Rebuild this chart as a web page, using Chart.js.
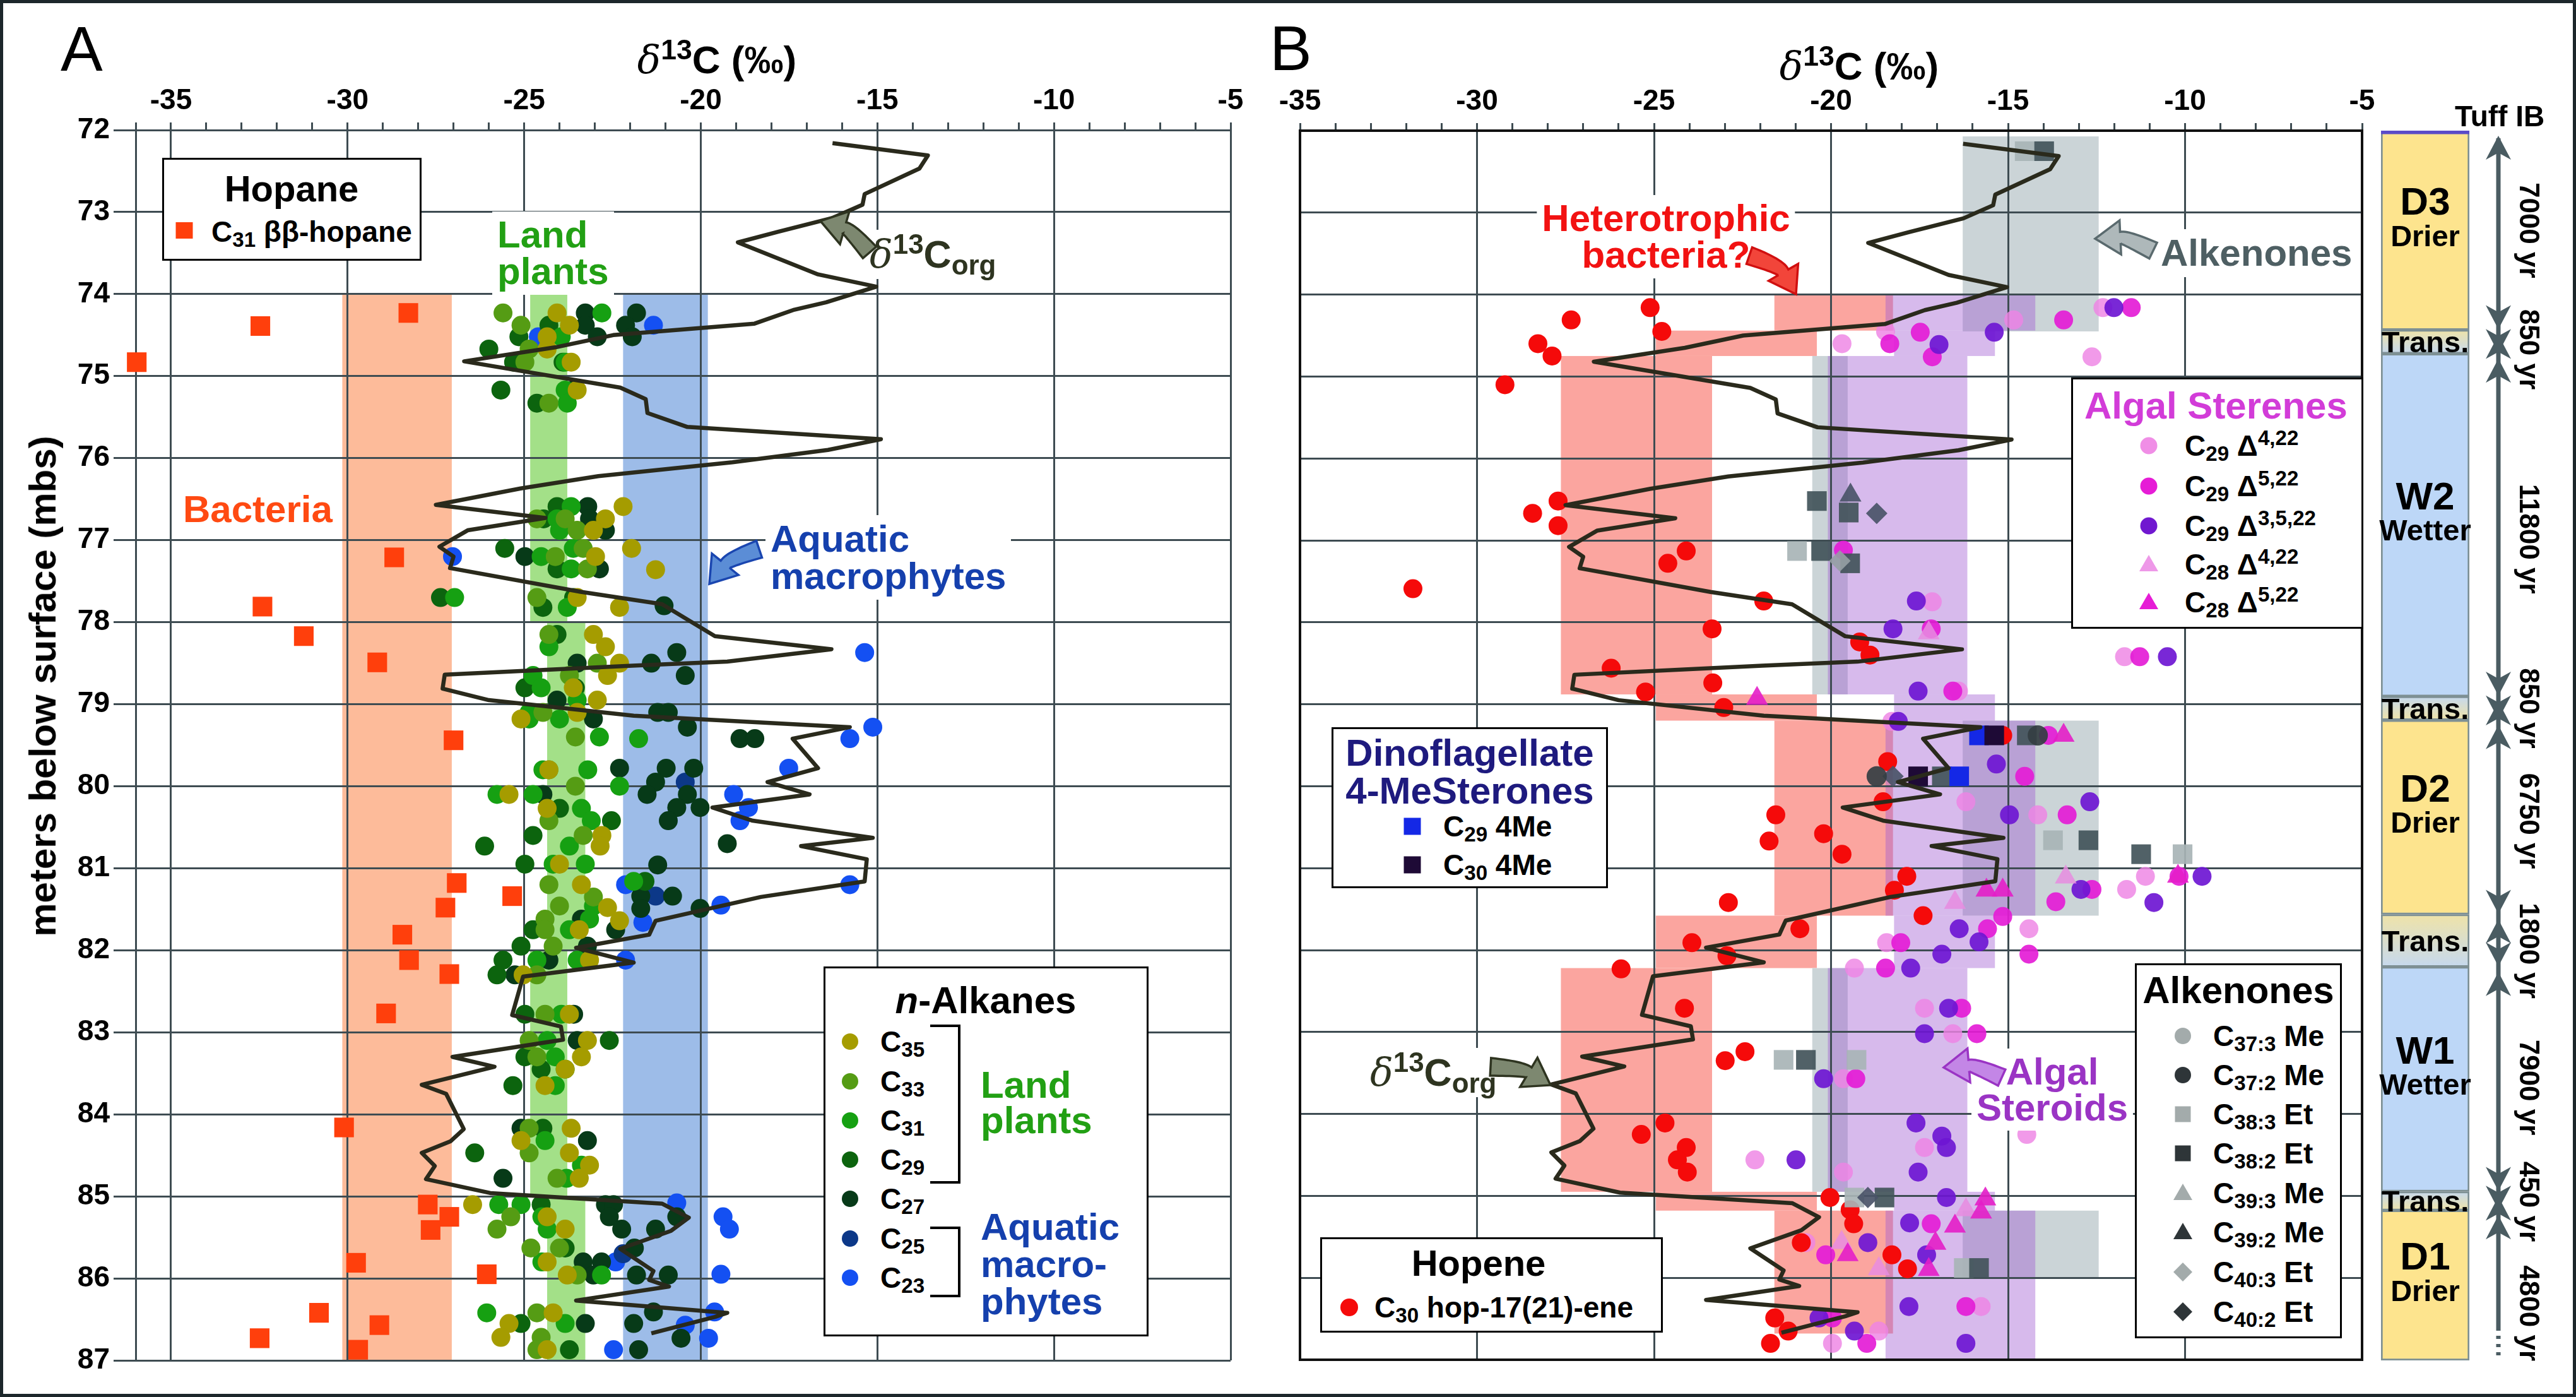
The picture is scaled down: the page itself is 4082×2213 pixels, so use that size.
<!DOCTYPE html>
<html lang="en">
<head>
<meta charset="UTF-8">
<title>Biomarker d13C profiles</title>
<script src="https://cdn.jsdelivr.net/npm/chart.js"></script>
<style>
  body { margin:0; background:#fff; }
  #fig { position:relative; width:4082px; height:2213px; overflow:hidden;
         font-family:"Liberation Sans", Arial, sans-serif; color:#000; }
  #fig canvas { position:absolute; top:0; }
  .t { position:absolute; font-weight:bold; line-height:1; white-space:nowrap; }
  .w { background:#fff; box-shadow:0 0 0 8px #fff; }
  .box { position:absolute; background:#fff; border:3px solid #000; box-sizing:border-box; }
  .mk { position:absolute; transform:translate(-50%,-50%); }
  .ci { border-radius:50%; }
  .tri { clip-path:polygon(50% 0,100% 100%,0 100%); }
  .dia { clip-path:polygon(50% 0,100% 50%,50% 100%,0 50%); }
  .br { position:absolute; border:4px solid #000; border-left:none; }
  sub { font-size:72%; vertical-align:-0.25em; line-height:0; }
  sup { font-size:72%; vertical-align:0.5em; line-height:0; }
  .dl { font-family:"DejaVu Serif", serif; font-style:italic; font-weight:normal; }
  #arrows { position:absolute; left:0; top:0; }
  #frame { position:absolute; left:0; top:0; width:100%; height:100%; box-sizing:border-box;
           border:5px solid #1c272b; pointer-events:none; }
</style>
</head>
<body>
<div id="fig">
  <canvas id="chartA" width="1990" height="2213" style="left:0"></canvas>
  <canvas id="chartB" width="1790" height="2213" style="left:1990px"></canvas>
  <canvas id="chartC" width="322" height="2213" style="left:3760px"></canvas>

  <!-- panel letters, axis titles -->
  <div class="t" style="left:96px;top:27px;font-size:100px;font-weight:normal">A</div>
  <div class="t" style="left:2012px;top:26px;font-size:100px;font-weight:normal">B</div>
  <div class="t" style="left:1136px;top:64px;font-size:62px;transform:translateX(-50%)"><span class="dl">δ</span><sup>13</sup>C (‰)</div>
  <div class="t" style="left:2946px;top:74px;font-size:62px;transform:translateX(-50%)"><span class="dl">δ</span><sup>13</sup>C (‰)</div>
  <div class="t" style="left:68px;top:1087px;font-size:60px;transform:translate(-50%,-50%) rotate(-90deg)">meters below surface (mbs)</div>

  <!-- panel A: hopane legend -->
  <div class="box" style="left:257px;top:250px;width:411px;height:163px"></div>
  <div class="t" style="left:462px;top:270px;font-size:58px;transform:translateX(-50%)">Hopane</div>
  <div class="mk" style="left:292px;top:365px;width:27px;height:26px;background:#FF3F0C"></div>
  <div class="t" style="left:335px;top:344px;font-size:46px">C<sub>31</sub> ββ-hopane</div>

  <!-- panel A: notes -->
  <div class="t w" style="left:788px;top:343px;font-size:60px;line-height:58px;color:#22A014">Land<br>plants</div>
  <div class="t w" style="left:1378px;top:372px;font-size:61px;color:#2E3420"><span class="dl">δ</span><sup>13</sup>C<sub>org</sub></div>
  <div class="t" style="left:290px;top:777px;font-size:60px;color:#FF4A12">Bacteria</div>
  <div class="t w" style="left:1221px;top:824px;font-size:60px;line-height:59px;color:#1540AD">Aquatic<br>macrophytes</div>

  <!-- panel A: n-alkanes legend -->
  <div class="box" style="left:1305px;top:1531px;width:515px;height:586px"></div>
  <div class="t" style="left:1562px;top:1555px;font-size:60px;transform:translateX(-50%)"><i>n</i>-Alkanes</div>
  <div class="mk ci" style="left:1347px;top:1650px;width:26px;height:26px;background:#A59C00"></div>
  <div class="mk ci" style="left:1347px;top:1713px;width:26px;height:26px;background:#559C14"></div>
  <div class="mk ci" style="left:1347px;top:1775px;width:26px;height:26px;background:#16A012"></div>
  <div class="mk ci" style="left:1347px;top:1837px;width:26px;height:26px;background:#0C640E"></div>
  <div class="mk ci" style="left:1347px;top:1899px;width:26px;height:26px;background:#073A18"></div>
  <div class="mk ci" style="left:1347px;top:1962px;width:26px;height:26px;background:#0C3888"></div>
  <div class="mk ci" style="left:1347px;top:2024px;width:26px;height:26px;background:#1450F2"></div>
  <div class="t" style="left:1395px;top:1627px;font-size:46px">C<sub>35</sub></div>
  <div class="t" style="left:1395px;top:1690px;font-size:46px">C<sub>33</sub></div>
  <div class="t" style="left:1395px;top:1752px;font-size:46px">C<sub>31</sub></div>
  <div class="t" style="left:1395px;top:1814px;font-size:46px">C<sub>29</sub></div>
  <div class="t" style="left:1395px;top:1876px;font-size:46px">C<sub>27</sub></div>
  <div class="t" style="left:1395px;top:1939px;font-size:46px">C<sub>25</sub></div>
  <div class="t" style="left:1395px;top:2001px;font-size:46px">C<sub>23</sub></div>
  <div class="br" style="left:1474px;top:1623px;width:44px;height:244px"></div>
  <div class="br" style="left:1474px;top:1943px;width:44px;height:104px"></div>
  <div class="t" style="left:1554px;top:1691px;font-size:60px;line-height:56px;color:#22A014">Land<br>plants</div>
  <div class="t" style="left:1554px;top:1914px;font-size:60px;line-height:59px;color:#1540AD">Aquatic<br>macro-<br>phytes</div>

  <!-- panel B: notes -->
  <div class="t w" style="left:2640px;top:317px;font-size:60px;line-height:58px;color:#F21212;text-align:center;transform:translateX(-50%)">Heterotrophic<br>bacteria?</div>
  <div class="t w" style="left:3424px;top:371px;font-size:60px;color:#4E5F63">Alkenones</div>
  <div class="t w" style="left:2171px;top:1668px;font-size:61px;color:#2E3420"><span class="dl">δ</span><sup>13</sup>C<sub>org</sub></div>
  <div class="t w" style="left:3252px;top:1669px;font-size:60px;line-height:57px;color:#9A34C4;text-align:center;transform:translateX(-50%)">Algal<br>Steroids</div>

  <!-- panel B: algal sterenes legend -->
  <div class="box" style="left:3282px;top:598px;width:463px;height:398px"></div>
  <div class="t" style="left:3303px;top:613px;font-size:60px;color:#D23CD8">Algal Sterenes</div>
  <div class="mk ci" style="left:3405px;top:706px;width:27px;height:27px;background:#F08EE6"></div>
  <div class="mk ci" style="left:3405px;top:770px;width:27px;height:27px;background:#E61CD6"></div>
  <div class="mk ci" style="left:3405px;top:833px;width:27px;height:27px;background:#7018D0"></div>
  <div class="mk tri" style="left:3405px;top:892px;width:30px;height:26px;background:#EE98E8"></div>
  <div class="mk tri" style="left:3405px;top:952px;width:30px;height:26px;background:#E61CD6"></div>
  <div class="t" style="left:3462px;top:683px;font-size:46px">C<sub>29</sub> Δ<sup>4,22</sup></div>
  <div class="t" style="left:3462px;top:747px;font-size:46px">C<sub>29</sub> Δ<sup>5,22</sup></div>
  <div class="t" style="left:3462px;top:810px;font-size:46px">C<sub>29</sub> Δ<sup>3,5,22</sup></div>
  <div class="t" style="left:3462px;top:871px;font-size:46px">C<sub>28</sub> Δ<sup>4,22</sup></div>
  <div class="t" style="left:3462px;top:931px;font-size:46px">C<sub>28</sub> Δ<sup>5,22</sup></div>

  <!-- panel B: dinoflagellate legend -->
  <div class="box" style="left:2110px;top:1152px;width:438px;height:255px"></div>
  <div class="t" style="left:2329px;top:1163px;font-size:60px;line-height:60px;color:#1E1A7E;text-align:center;transform:translateX(-50%)">Dinoflagellate<br>4-MeSterones</div>
  <div class="mk" style="left:2238px;top:1309px;width:27px;height:27px;background:#1428E6"></div>
  <div class="mk" style="left:2238px;top:1370px;width:27px;height:27px;background:#1E0A36"></div>
  <div class="t" style="left:2287px;top:1286px;font-size:46px">C<sub>29</sub> 4Me</div>
  <div class="t" style="left:2287px;top:1347px;font-size:46px">C<sub>30</sub> 4Me</div>

  <!-- panel B: hopene legend -->
  <div class="box" style="left:2092px;top:1960px;width:543px;height:151px"></div>
  <div class="t" style="left:2343px;top:1972px;font-size:58px;transform:translateX(-50%)">Hopene</div>
  <div class="mk ci" style="left:2138px;top:2071px;width:28px;height:28px;background:#F50A0A"></div>
  <div class="t" style="left:2178px;top:2048px;font-size:46px">C<sub>30</sub> hop-17(21)-ene</div>

  <!-- panel B: alkenones legend -->
  <div class="box" style="left:3383px;top:1526px;width:328px;height:594px"></div>
  <div class="t" style="left:3547px;top:1539px;font-size:60px;transform:translateX(-50%)">Alkenones</div>
  <div class="mk ci" style="left:3459px;top:1641px;width:26px;height:26px;background:#A3ABAB"></div>
  <div class="mk ci" style="left:3459px;top:1703px;width:26px;height:26px;background:#2E3538"></div>
  <div class="mk" style="left:3459px;top:1765px;width:25px;height:25px;background:#A3ABAB"></div>
  <div class="mk" style="left:3459px;top:1827px;width:25px;height:25px;background:#2E3538"></div>
  <div class="mk tri" style="left:3459px;top:1888px;width:30px;height:26px;background:#A3ABAB"></div>
  <div class="mk tri" style="left:3459px;top:1950px;width:30px;height:26px;background:#2E3538"></div>
  <div class="mk dia" style="left:3459px;top:2015px;width:30px;height:30px;background:#A3ABAB"></div>
  <div class="mk dia" style="left:3459px;top:2078px;width:30px;height:30px;background:#2E3538"></div>
  <div class="t" style="left:3507px;top:1618px;font-size:46px">C<sub>37:3</sub> Me</div>
  <div class="t" style="left:3507px;top:1680px;font-size:46px">C<sub>37:2</sub> Me</div>
  <div class="t" style="left:3507px;top:1742px;font-size:46px">C<sub>38:3</sub> Et</div>
  <div class="t" style="left:3507px;top:1804px;font-size:46px">C<sub>38:2</sub> Et</div>
  <div class="t" style="left:3507px;top:1867px;font-size:46px">C<sub>39:3</sub> Me</div>
  <div class="t" style="left:3507px;top:1929px;font-size:46px">C<sub>39:2</sub> Me</div>
  <div class="t" style="left:3507px;top:1992px;font-size:46px">C<sub>40:3</sub> Et</div>
  <div class="t" style="left:3507px;top:2055px;font-size:46px">C<sub>40:2</sub> Et</div>

  <div class="t" style="left:3890px;top:161px;font-size:46px">Tuff IB</div>
  <svg id="arrows" width="4082" height="2213"></svg>
  <div id="frame"></div>
</div>

<script>
// ---------- data: [d13C (permil), depth (mbs)] ----------
const corgLine = [
  [-16.27,72.16],[-13.57,72.31],[-13.81,72.47],[-15.36,72.78],[-15.42,72.91],[-16.26,73.07],[-17.81,73.24],
  [-18.95,73.37],[-16.68,73.76],[-15.03,73.91],[-16.45,74.10],[-17.35,74.19],[-18.48,74.36],[-22.48,74.50],
  [-24.13,74.65],[-26.7,74.82],[-22.28,75.14],[-21.56,75.28],[-21.51,75.45],[-20.38,75.62],[-14.9,75.77],
  [-16.4,75.9],[-19.1,76.05],[-22.9,76.22],[-25.1,76.37],[-27.5,76.57],[-24.4,76.73],[-26.6,76.88],
  [-27.4,77.08],[-27.0,77.2],[-27.1,77.34],[-23.4,77.63],[-21.1,77.78],[-19.6,78.17],[-16.3,78.33],
  [-19.25,78.48],[-21.94,78.53],[-27.25,78.64],[-27.31,78.81],[-26.0,78.95],[-21.9,79.14],[-15.78,79.28],
  [-17.4,79.42],[-16.68,79.78],[-18.11,79.95],[-16.92,80.1],[-19.67,80.26],[-18.53,80.42],[-15.13,80.63],
  [-17.16,80.73],[-15.3,80.89],[-15.36,81.16],[-18.3,81.35],[-21.28,81.64],[-21.46,81.81],[-23.53,81.97],
  [-21.9,82.15],[-25.03,82.32],[-25.34,82.79],[-23.96,82.93],[-23.9,83.09],[-27.03,83.3],[-25.84,83.42],
  [-27.9,83.64],[-27.21,83.75],[-26.71,84.18],[-27.09,84.33],[-27.9,84.47],[-27.53,84.63],[-27.78,84.79],
  [-25.96,84.96],[-21.09,85.09],[-20.34,85.26],[-20.84,85.42],[-22.28,85.64],[-21.34,85.91],[-21.46,86.02],
  [-20.9,86.1],[-23.53,86.27],[-19.25,86.42],[-19.6,86.47],[-21.4,86.67]
];

// panel A
const hopane = [
  [-28.28,74.23],[-32.47,74.39],[-35.97,74.83],[-28.68,77.21],[-32.41,77.81],[-31.24,78.17],[-29.16,78.49],
  [-27.0,79.44],[-26.91,81.18],[-25.34,81.34],[-27.23,81.48],[-28.45,81.81],[-28.26,82.12],[-27.12,82.29],
  [-28.91,82.77],[-30.1,84.16],[-27.73,85.1],[-27.12,85.25],[-27.65,85.41],[-29.76,85.81],[-26.06,85.95],
  [-30.81,86.42],[-29.1,86.57],[-32.49,86.73],[-29.7,86.87]
];
const alkC35 = [
  [-24.07,74.23],[-23.72,74.38],[-24.35,74.52],[-24.35,74.67],[-23.67,74.83],[-23.5,75.17],[-22.2,76.59],
  [-22.7,76.74],[-23.04,76.88],[-21.96,77.1],[-22.98,77.2],[-21.28,77.36],[-23.5,77.7],[-22.3,77.82],
  [-23.04,78.15],[-22.7,78.3],[-22.3,78.5],[-22.64,78.65],[-23.61,78.8],[-22.93,78.95],[-23.5,79.1],
  [-25.09,79.18],[-24.3,79.8],[-25.43,80.1],[-24.35,80.27],[-22.8,80.6],[-22.85,80.73],[-24.0,80.95],
  [-23.38,81.2],[-22.64,81.48],[-22.3,81.64],[-23.44,81.75],[-23.15,82.12],[-25.03,82.3],[-23.72,82.78],
  [-23.21,83.1],[-23.38,83.3],[-23.84,83.45],[-24.41,83.65],[-23.67,84.17],[-25.09,84.32],[-23.72,84.47],
  [-23.15,84.62],[-23.44,84.78],[-26.46,85.1],[-24.35,85.25],[-23.84,85.4],[-24.35,85.8],[-23.78,85.96],
  [-24.18,86.42],[-25.43,86.55],[-25.66,86.72],[-24.35,86.87]
];
const alkC33 = [
  [-25.6,74.23],[-25.09,74.38],[-24.86,74.67],[-24.98,74.83],[-24.3,75.33],[-24.64,76.74],[-23.84,76.74],
  [-23.5,76.88],[-23.33,77.1],[-24.12,77.2],[-23.21,77.35],[-24.64,77.7],[-24.3,78.15],[-22.93,78.5],
  [-23.72,78.65],[-24.47,79.1],[-23.55,79.4],[-24.3,79.8],[-23.55,80.0],[-24.3,80.42],[-23.33,80.6],
  [-24.3,81.2],[-23.04,81.35],[-24.0,81.46],[-24.41,81.62],[-24.41,81.75],[-24.18,81.95],[-24.64,82.3],
  [-24.41,82.78],[-24.86,83.1],[-24.64,83.3],[-24.86,84.17],[-24.86,84.47],[-24.07,84.78],[-25.38,85.25],
  [-25.77,85.4],[-24.81,85.63],[-24.0,85.63],[-23.5,85.96],[-24.64,86.42],[-24.52,86.72],[-24.64,86.87]
];
const alkC31 = [
  [-22.8,74.23],[-23.95,74.52],[-23.84,74.83],[-23.84,75.17],[-23.78,75.33],[-23.67,76.59],[-24.07,76.74],
  [-24.0,76.88],[-23.61,77.1],[-24.52,77.2],[-23.67,77.35],[-26.97,77.7],[-23.78,77.82],[-24.3,78.3],
  [-24.75,78.65],[-24.52,78.8],[-23.5,78.95],[-24.86,79.1],[-24.86,79.18],[-24.0,79.18],[-22.87,79.4],
  [-21.76,79.42],[-24.47,79.8],[-23.2,79.8],[-22.3,80.0],[-25.77,80.1],[-24.75,80.1],[-23.38,80.27],
  [-23.1,80.42],[-23.72,80.73],[-24.18,80.95],[-23.27,80.95],[-21.9,81.16],[-23.04,81.46],[-23.15,81.62],
  [-23.72,81.75],[-24.64,82.12],[-23.5,82.12],[-23.95,82.78],[-24.35,83.1],[-24.12,83.3],[-23.84,83.45],
  [-24.12,83.65],[-24.41,84.32],[-23.38,84.62],[-23.8,84.78],[-25.72,85.1],[-25.09,85.1],[-24.5,85.25],
  [-24.35,85.4],[-24.5,85.8],[-22.81,85.96],[-26.06,86.42],[-23.84,86.55]
];
const alkC29 = [
  [-24.3,74.38],[-25.15,74.52],[-26.0,74.67],[-25.3,74.83],[-23.9,74.83],[-25.66,75.17],[-24.64,75.33],
  [-24.07,76.59],[-24.45,76.74],[-25.55,77.1],[-24.07,77.35],[-27.37,77.7],[-23.6,77.7],[-24.47,77.82],
  [-24.07,78.15],[-24.98,78.8],[-23.55,78.8],[-24.0,80.27],[-22.53,80.42],[-24.75,80.6],[-26.12,80.73],
  [-24.98,80.95],[-21.58,81.16],[-24.75,81.75],[-25.09,81.95],[-25.6,82.12],[-25.77,82.3],[-24.98,82.78],
  [-22.59,83.1],[-24.98,83.3],[-24.52,83.45],[-25.32,83.65],[-24.47,84.17],[-26.4,84.47],[-24.52,85.1],
  [-23.84,85.63],[-25.09,86.55],[-23.72,86.87]
];
const alkC27 = [
  [-23.27,74.23],[-21.82,74.23],[-23.27,74.38],[-22.13,74.38],[-22.93,74.52],[-21.94,74.52],[-23.61,75.17],
  [-23.2,76.59],[-23.15,76.74],[-22.7,76.88],[-24.98,77.2],[-22.87,77.35],[-21.04,77.8],[-20.68,78.37],
  [-23.5,78.5],[-21.4,78.5],[-20.44,78.65],[-24.07,78.95],[-21.22,79.1],[-20.92,79.1],[-23.04,79.18],
  [-20.38,79.28],[-18.89,79.42],[-18.47,79.42],[-22.3,79.78],[-20.98,79.78],[-20.2,79.78],[-21.28,79.95],
  [-21.52,80.1],[-20.38,80.1],[-24.47,80.1],[-20.68,80.26],[-20.02,80.26],[-20.92,80.42],[-19.25,80.7],
  [-21.22,80.96],[-20.8,81.34],[-21.7,81.34],[-20.02,81.49],[-21.7,81.49],[-23.38,81.62],[-22.41,81.75],
  [-23.21,81.95],[-24.3,82.12],[-25.26,82.3],[-23.6,82.78],[-23.5,83.1],[-25.09,84.17],[-23.21,84.32],
  [-25.6,84.78],[-22.7,85.1],[-22.47,85.1],[-22.59,85.25],[-20.68,85.25],[-22.24,85.4],[-21.28,85.4],
  [-21.88,85.63],[-23.33,85.8],[-22.81,85.8],[-23.04,85.96],[-21.82,85.96],[-20.92,85.96],[-21.34,86.41],
  [-23.27,86.55],[-21.9,86.55],[-20.56,86.73],[-21.76,86.87]
];
const alkC25 = [[-20.44,79.95],[-21.28,81.34],[-22.2,85.7]];
const alkC23 = [
  [-21.34,74.38],[-24.6,74.52],[-27.03,77.2],[-15.36,78.37],[-15.13,79.28],[-15.78,79.42],[-17.51,79.78],
  [-19.07,80.1],[-18.65,80.26],[-18.89,80.42],[-15.78,81.2],[-22.13,81.2],[-19.43,81.45],[-21.64,81.66],
  [-22.13,82.12],[-20.68,85.08],[-19.37,85.25],[-19.19,85.4],[-22.41,85.8],[-19.43,85.95],[-19.61,86.41],
  [-20.44,86.57],[-19.78,86.73],[-22.47,86.87]
];

// panel B
const hopene = [
  [-25.11,74.16],[-27.34,74.31],[-24.78,74.45],[-28.28,74.6],[-27.88,74.75],[-29.21,75.1],[-27.71,76.52],
  [-28.43,76.67],[-27.71,76.82],[-24.09,77.13],[-24.61,77.28],[-31.81,77.59],[-21.9,77.74],[-23.36,78.08],
  [-19.19,78.24],[-18.9,78.4],[-26.21,78.56],[-23.34,78.74],[-25.24,78.85],[-23.03,79.04],[-15.15,79.38],
  [-18.4,79.7],[-18.53,80.19],[-21.56,80.35],[-20.21,80.58],[-21.75,80.67],[-19.69,80.83],[-17.86,81.1],
  [-18.21,81.27],[-22.9,81.42],[-17.4,81.58],[-20.88,81.74],[-23.93,81.91],[-22.94,82.07],[-25.93,82.23],
  [-24.14,82.71],[-22.43,83.24],[-22.99,83.35],[-24.69,84.11],[-25.36,84.25],[-24.09,84.41],[-24.34,84.56],
  [-24.06,84.71],[-20.03,85.02],[-19.46,85.17],[-19.36,85.34],[-20.84,85.57],[-18.28,85.72],[-17.84,85.89],
  [-21.59,86.49],[-21.21,86.65],[-21.71,86.8]
];
const st29d422 = [
  [-12.32,74.16],[-14.84,74.31],[-18.46,74.45],[-19.69,74.6],[-12.63,74.76],[-17.14,77.75],[-11.71,78.42],
  [-16.4,78.84],[-18.28,79.21],[-16.19,80.19],[-14.16,80.35],[-11.12,81.1],[-11.65,81.26],[-14.41,81.74],
  [-18.43,81.91],[-19.34,82.22],[-17.36,82.71],[-16.56,83.02],[-19.65,83.57],[-14.47,84.25],[-17.36,84.41],
  [-22.15,84.56],[-19.65,84.71],[-20.71,85.57],[-15.76,86.35],[-18.65,86.65],[-19.96,86.8]
];
const st29d522 = [
  [-11.52,74.16],[-13.43,74.31],[-17.48,74.46],[-18.34,74.6],[-17.14,74.76],[-19.65,77.12],[-17.17,78.08],
  [-11.28,78.42],[-16.56,78.84],[-13.86,79.38],[-14.53,79.88],[-13.33,80.35],[-10.17,81.1],[-12.63,81.26],
  [-13.65,81.41],[-15.15,81.59],[-15.58,81.74],[-14.41,82.05],[-18.03,81.91],[-18.46,82.22],[-16.31,82.71],
  [-15.88,83.02],[-19.3,83.57],[-17.17,85.34],[-20.15,85.72],[-16.19,86.35],[-19.96,86.49],[-18.99,86.8]
];
const st29d3522 = [
  [-12.01,74.16],[-15.39,74.46],[-16.95,74.61],[-17.59,77.74],[-18.25,78.08],[-10.5,78.42],[-17.54,78.84],
  [-18.1,79.21],[-15.33,79.73],[-12.69,80.19],[-14.96,80.35],[-12.94,81.26],[-10.88,81.42],[-9.52,81.1],
  [-16.38,81.74],[-15.82,81.9],[-16.87,82.05],[-17.75,82.22],[-16.68,82.71],[-17.36,83.02],[-20.21,83.57],
  [-17.6,84.11],[-16.87,84.27],[-16.74,84.41],[-20.99,84.56],[-17.54,84.71],[-16.74,85.02],[-17.78,85.33],
  [-18.96,85.57],[-17.3,85.72],[-17.8,86.35],[-20.34,86.49],[-19.34,86.65],[-16.19,86.8]
];
const st28d422 = [[-17.24,78.13],[-13.37,81.11],[-16.5,81.42],[-16.19,85.17],[-19.7,85.57],[-18.65,85.89]];
const st28d522 = [
  [-22.09,78.93],[-13.43,79.38],[-10.2,81.1],[-15.15,81.27],[-15.61,81.27],[-15.64,85.04],[-15.76,85.2],
  [-16.5,85.37],[-17.05,85.58],[-19.53,85.72],[-17.24,85.9]
];
const ak372Me = [[-14.16,79.38],[-18.71,79.88]];
const ak383Et = [[-14.53,72.25],[-20.96,77.13],[-13.73,80.66],[-10.07,80.83],[-21.34,83.34],[-19.28,83.34],[-19.34,85.02],[-16.25,85.88]];
const ak382Et = [
  [-13.98,72.25],[-20.4,76.52],[-19.5,76.66],[-20.28,77.13],[-19.46,77.28],[-14.47,79.38],[-16.87,79.88],
  [-12.73,80.66],[-11.24,80.83],[-20.71,83.34],[-18.49,85.02],[-15.82,85.88]
];
const ak392Me = [[-19.45,76.45]];
const ak403Et = [[-19.75,77.25]];
const ak402Et = [[-18.71,76.67],[-18.25,79.88],[-18.96,85.02]];
const dino29 = [[-15.82,79.38],[-16.38,79.88]];
const dino30 = [[-15.39,79.38],[-17.54,79.88]];

// shaded ranges: [from, to, top depth, base depth]
const bacteriaBand = [[-30.15,-27.05,74,87]];
const landBand = [[-24.83,-23.78,74,78],[-24.35,-23.27,78,82],[-24.83,-23.78,82,85],[-24.35,-23.27,85,87]];
const aquaticBand = [[-22.2,-19.8,74,87]];
const hopeneBand = [
  [-21.6,-18.25,74.0,74.44],[-24.95,-20.4,74.44,74.75],[-27.63,-23.36,74.75,78.88],[-24.95,-20.4,78.88,79.2],
  [-21.6,-18.25,79.2,81.58],[-24.95,-20.4,81.58,82.22],[-27.63,-23.36,82.22,84.95],[-24.95,-20.4,84.95,85.18],
  [-21.6,-18.25,85.18,86.68]
];
const alkenoneBand = [
  [-16.28,-12.44,72.07,74.45],[-20.53,-19.53,74.75,78.88],[-16.28,-12.44,79.2,81.58],
  [-20.53,-19.53,82.22,84.95],[-16.28,-12.44,85.18,86.01]
];
const steroidBand = [
  [-18.46,-14.23,74.0,74.44],[-18.22,-15.37,74.44,74.75],[-20.09,-16.15,74.75,78.88],[-18.22,-15.37,78.88,79.2],
  [-18.46,-14.23,79.2,81.58],[-18.22,-15.37,81.58,82.22],[-20.09,-16.15,82.22,84.95],[-18.22,-15.37,84.95,85.18],
  [-18.46,-14.23,85.18,87]
];

// climate column
const periodName  = ['D3','Trans.','W2','Trans.','D2','Trans.','W1','Trans.','D1'];
const periodSub   = ['Drier','','Wetter','','Drier','','Wetter','','Drier'];
const periodTop   = [72, 74.43, 74.72, 78.9, 79.19, 81.56, 82.2, 84.94, 85.17];
const periodBase  = [74.43, 74.72, 78.9, 79.19, 81.56, 82.2, 84.94, 85.17, 87];
const periodYears = ['7000 yr','850 yr','11800 yr','850 yr','6750 yr','1800 yr','7900 yr','450 yr','4800 yr'];
const tuffLayer = [72, 72.04];

// ---------- drawing ----------
const F = '"Liberation Sans", Arial, sans-serif';
const gridCol = '#3E4C52';
const xy = a => a.map(([x, y]) => ({x, y}));

function dots(data, color, r, style) {
  return { data: xy(data), showLine: false, clip: false, pointStyle: style || 'circle',
           pointRadius: r, pointBackgroundColor: color, pointBorderWidth: 0, pointBorderColor: 'rgba(0,0,0,0)' };
}
const corgDataset = { data: xy(corgLine), showLine: true, clip: false, pointRadius: 0,
                      borderColor: '#2A2A1C', borderWidth: 6.5, borderJoinStyle: 'round', tension: 0 };

function xAxis(min, h) {
  return {
    type: 'linear', position: 'top', min: min, max: -5,
    ticks: { stepSize: 1, autoSkip: false, maxRotation: 0, padding: 6, color: '#000',
             font: { family: F, size: 46, weight: 'bold' },
             callback: v => (v % 5 === 0 ? String(v) : '') },
    grid: { lineWidth: 3, tickLength: 12, tickColor: gridCol, tickWidth: 3,
            color: c => (c.tick && c.tick.value % 5 === 0) ? gridCol : 'rgba(0,0,0,0)' },
    border: { color: gridCol, width: 3 },
    afterFit: s => { s.height = h; s.paddingLeft = 0; s.paddingRight = 0; }
  };
}
function yAxis(labels, w) {
  return {
    type: 'linear', reverse: true, min: 72, max: 87,
    ticks: { display: labels, stepSize: 1, autoSkip: false, padding: 6, color: '#000',
             font: { family: F, size: 46, weight: 'bold' } },
    grid: { color: gridCol, lineWidth: 3, tickLength: 35, drawTicks: labels },
    border: { color: gridCol, width: 3 },
    afterFit: s => { s.width = w; s.paddingTop = 0; s.paddingBottom = 0; }
  };
}

// shaded ranges drawn first so the grid sits on top
const bandPlugin = {
  id: 'bands',
  beforeDraw(chart, args, opts) {
    const {ctx, chartArea: a, scales: {x, y}} = chart;
    ctx.save();
    ctx.beginPath();
    ctx.rect(a.left, a.top, a.right - a.left, a.bottom - a.top);
    ctx.clip();
    (opts.groups || []).forEach(g => {
      ctx.fillStyle = g.color;
      g.spans.forEach(([x0, x1, d0, d1]) => {
        const px0 = x.getPixelForValue(x0), px1 = x.getPixelForValue(x1);
        const py0 = y.getPixelForValue(d0), py1 = y.getPixelForValue(d1);
        ctx.fillRect(px0, py0, px1 - px0, py1 - py0);
      });
    });
    ctx.restore();
  }
};
const frameB = {
  id: 'frameB',
  beforeDatasetsDraw(chart) {
    const {ctx, chartArea: a} = chart;
    ctx.save();
    ctx.strokeStyle = '#111';
    ctx.lineWidth = 4;
    ctx.strokeRect(a.left, a.top, a.right - a.left, a.bottom - a.top);
    ctx.restore();
  }
};

const common = { responsive: false, animation: false, devicePixelRatio: 1, events: [] };

new Chart(document.getElementById('chartA'), {
  type: 'scatter',
  data: { datasets: [
    corgDataset,
    dots(alkC35, '#A59C00', 15),
    dots(alkC33, '#559C14', 15),
    dots(alkC31, '#16A012', 15),
    dots(alkC29, '#0C640E', 15),
    dots(alkC27, '#073A18', 15),
    dots(alkC25, '#0C3888', 15),
    dots(alkC23, '#1450F2', 15),
    dots(hopane, '#FF3F0C', 22, 'rect')
  ]},
  options: Object.assign({}, common, {
    layout: { padding: { left: 0, top: 0, right: 40, bottom: 58 } },
    plugins: { legend: { display: false }, tooltip: { enabled: false },
      bands: { groups: [
        { spans: bacteriaBand, color: '#FDBB9A' },
        { spans: landBand, color: '#A3E088' },
        { spans: aquaticBand, color: '#9DBCE8' }
      ]}
    },
    scales: { x: xAxis(-36, 206), y: yAxis(true, 215) }
  }),
  plugins: [bandPlugin]
});

new Chart(document.getElementById('chartB'), {
  type: 'scatter',
  data: { datasets: [
    corgDataset,
    dots(dino30, '#1E0A36', 22, 'rect'),
    dots(dino29, '#1428E6', 22, 'rect'),
    dots(ak372Me, 'rgba(52,62,66,0.92)', 16),
    dots(ak402Et, 'rgba(74,84,104,0.92)', 17, 'rectRot'),
    dots(ak403Et, 'rgba(150,160,164,0.9)', 17, 'rectRot'),
    dots(ak392Me, 'rgba(74,84,104,0.92)', 20, 'triangle'),
    dots(ak382Et, 'rgba(66,84,90,0.92)', 22, 'rect'),
    dots(ak383Et, 'rgba(168,180,182,0.92)', 22, 'rect'),
    dots(hopene, '#F50A0A', 15),
    dots(st28d522, 'rgba(228,30,200,0.9)', 20, 'triangle'),
    dots(st28d422, 'rgba(232,140,225,0.85)', 20, 'triangle'),
    dots(st29d3522, 'rgba(110,22,210,0.92)', 15),
    dots(st29d522, 'rgba(228,28,214,0.92)', 15),
    dots(st29d422, 'rgba(238,132,228,0.82)', 15)
  ]},
  options: Object.assign({}, common, {
    layout: { padding: { left: 0, top: 0, right: 37, bottom: 59 } },
    plugins: { legend: { display: false }, tooltip: { enabled: false },
      bands: { groups: [
        { spans: hopeneBand, color: '#FBA59F' },
        { spans: alkenoneBand, color: '#CBD4D7' },
        { spans: steroidBand, color: 'rgba(160,90,210,0.42)' }
      ]}
    },
    scales: { x: xAxis(-35, 207), y: yAxis(false, 70) }
  }),
  plugins: [bandPlugin, frameB]
});

// climate column: floating bars on the same depth scale
const dryCol = '#FDE48E', wetCol = '#BDD7F7';
function transFill(from, to) {
  return ctx => {
    const c = ctx.chart, y = c.scales && c.scales.y;
    if (!y || !Array.isArray(ctx.raw)) return from;
    const p0 = y.getPixelForValue(ctx.raw[0]), p1 = y.getPixelForValue(ctx.raw[1]);
    if (!isFinite(p0) || !isFinite(p1) || p0 === p1) return from;
    const g = c.ctx.createLinearGradient(0, p0, 0, p1);
    g.addColorStop(0, from);
    g.addColorStop(1, to);
    return g;
  };
}
function periodColor(i) {
  if (periodName[i] !== 'Trans.') return periodName[i][0] === 'D' ? dryCol : wetCol;
  return periodName[i - 1][0] === 'D' ? transFill('#EFE3A8', '#C6D9EE') : transFill('#C6D9EE', '#EFE3A8');
}

// small nudges so the rotated duration labels do not collide
const yearNudge = [0, 12, 22, 0, 6, 16, 13, 1, 44];

const columnPlugin = {
  id: 'column',
  afterDatasetsDraw(chart) {
    const {ctx, chartArea: a, scales: {y}} = chart;
    const cx = (a.left + a.right) / 2;
    ctx.save();
    ctx.fillStyle = '#000';
    ctx.textAlign = 'center';
    ctx.textBaseline = 'alphabetic';
    periodName.forEach((n, i) => {
      const mid = (y.getPixelForValue(periodTop[i]) + y.getPixelForValue(periodBase[i])) / 2;
      if (!periodSub[i]) {
        ctx.font = 'bold 47px ' + F;
        ctx.fillText(n, cx, mid + 0.358 * 47);
      } else {
        ctx.font = 'bold 62px ' + F;
        ctx.fillText(n, cx, mid - 47 + 0.358 * 62);
        ctx.font = 'bold 47px ' + F;
        ctx.fillText(periodSub[i], cx, mid + 8 + 0.358 * 47);
      }
    });

    // duration arrows
    const ax = a.right + 46;
    ctx.strokeStyle = ctx.fillStyle = '#4A5C62';
    ctx.lineWidth = 7;
    const yTop = y.getPixelForValue(72), yDash = y.getPixelForValue(86.6), yBot = y.getPixelForValue(87);
    ctx.beginPath(); ctx.moveTo(ax, yTop + 12); ctx.lineTo(ax, yDash); ctx.stroke();
    ctx.setLineDash([5, 8]);
    ctx.beginPath(); ctx.moveTo(ax, yDash); ctx.lineTo(ax, yBot); ctx.stroke();
    ctx.setLineDash([]);
    const head = (tip, dir) => {
      const b = tip - dir * 38, n = tip - dir * 27;
      ctx.beginPath();
      ctx.moveTo(ax, tip); ctx.lineTo(ax - 20, b); ctx.lineTo(ax, n); ctx.lineTo(ax + 20, b);
      ctx.closePath(); ctx.fill();
    };
    periodTop.forEach((t, i) => {
      head(y.getPixelForValue(t) + 8, -1);
      if (i < periodTop.length - 1) head(y.getPixelForValue(periodBase[i]) - 1, 1);
    });

    // durations, rotated
    ctx.fillStyle = '#000';
    ctx.font = 'bold 44px ' + F;
    ctx.textBaseline = 'middle';
    periodYears.forEach((s, i) => {
      const mid = (y.getPixelForValue(periodTop[i]) + y.getPixelForValue(periodBase[i])) / 2 + yearNudge[i];
      ctx.save();
      ctx.translate(a.right + 92, mid);
      ctx.rotate(Math.PI / 2);
      ctx.fillText(s, 0, 0);
      ctx.restore();
    });
    ctx.restore();
  }
};

// curved, tapered callout arrows
function arrow(x1, y1, x2, y2, bend, fill, edge) {
  const dx = x2 - x1, dy = y2 - y1, len = Math.hypot(dx, dy);
  const cx = (x1 + x2) / 2 - dy / len * bend, cy = (y1 + y2) / 2 + dx / len * bend;
  let ex = x2 - cx, ey = y2 - cy;
  const el = Math.hypot(ex, ey); ex /= el; ey /= el;
  const hl = 40, hw = 27;
  const bx = x2 - ex * hl, by = y2 - ey * hl;
  const L = [], R = [], N = 14;
  for (let i = 0; i <= N; i++) {
    const t = i / N, u = 1 - t;
    const px = u * u * x1 + 2 * u * t * cx + t * t * bx, py = u * u * y1 + 2 * u * t * cy + t * t * by;
    const tx = 2 * u * (cx - x1) + 2 * t * (bx - cx), ty = 2 * u * (cy - y1) + 2 * t * (by - cy);
    const tl = Math.hypot(tx, ty), nx = -ty / tl, ny = tx / tl, w = 14 - 5 * t;
    L.push([px + nx * w, py + ny * w]);
    R.push([px - nx * w, py - ny * w]);
  }
  const pts = L.concat([[bx - ey * hw, by + ex * hw], [x2, y2], [bx + ey * hw, by - ex * hw]], R.reverse());
  return `<polygon points="${pts.map(p => p[0].toFixed(1) + ',' + p[1].toFixed(1)).join(' ')}" ` +
         `fill="${fill}" stroke="${edge}" stroke-width="3.5" stroke-linejoin="miter"/>`;
}
document.getElementById('arrows').innerHTML =
  arrow(1378, 400, 1300, 350, 14, '#7D8870', '#2E3420') +
  arrow(1203, 870, 1124, 925, 14, '#5B8DD6', '#1A46B0') +
  arrow(2772, 405, 2846, 466, -18, '#F2453A', '#D01010') +
  arrow(3412, 397, 3320, 378, 12, '#AEB8BA', '#5A6A6E') +
  arrow(2362, 1690, 2457, 1719, -12, '#7D8870', '#2E3420') +
  arrow(3172, 1707, 3080, 1691, 12, '#C386E6', '#9A34C4');

new Chart(document.getElementById('chartC'), {
  type: 'bar',
  data: {
    labels: ['column'],
    datasets: [{ data: [tuffLayer], backgroundColor: '#5B4BC8', borderWidth: 0, grouped: false }].concat(
      periodTop.map((t, i) => ({
        data: [[t, periodBase[i]]], backgroundColor: periodColor(i),
        borderColor: '#7E9094', borderWidth: 3, borderSkipped: false, grouped: false
      })))
  },
  options: Object.assign({}, common, {
    datasets: { bar: { barPercentage: 1, categoryPercentage: 1 } },
    layout: { padding: { left: 13, right: 169, top: 207, bottom: 58 } },
    plugins: { legend: { display: false }, tooltip: { enabled: false } },
    scales: { x: { display: false }, y: { display: false, reverse: true, min: 72, max: 87 } }
  }),
  plugins: [columnPlugin]
});
</script>
</body>
</html>
